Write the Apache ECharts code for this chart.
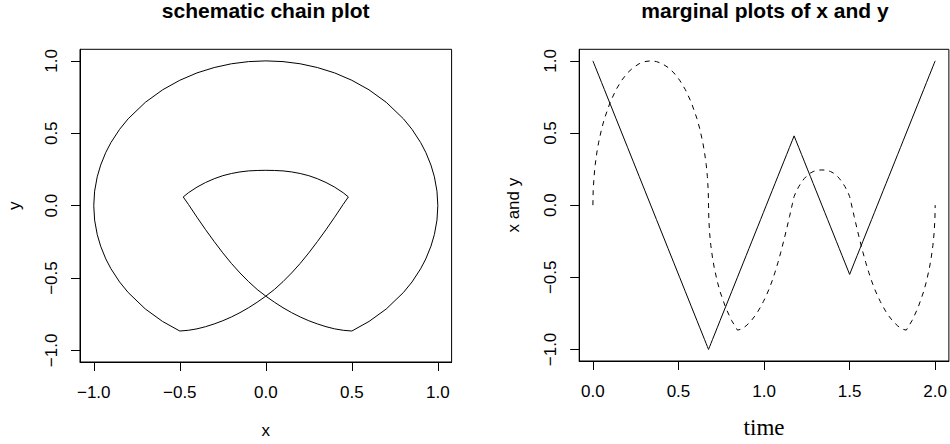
<!DOCTYPE html>
<html>
<head>
<meta charset="utf-8">
<script src="https://cdn.jsdelivr.net/npm/echarts@6/dist/echarts.min.js"></script>
<style>
  html, body { margin: 0; padding: 0; background: #fff; }
  #chart { width: 950px; height: 444px; }
</style>
</head>
<body>
<div id="chart"></div>
<script>
// path of the chain: time, x(t), y(t)
const time = [
  0, 0.0017, 0.0068, 0.0135, 0.0236, 0.0338, 0.0507, 0.0676, 0.1014, 0.1351,
  0.1689, 0.2027, 0.2365, 0.2703, 0.3041, 0.3378, 0.3716, 0.4054, 0.4392, 0.4730,
  0.5068, 0.5405, 0.5743, 0.6081, 0.6250, 0.6419, 0.6520, 0.6622, 0.6689, 0.6740, 0.6757,
  0.6774, 0.6824, 0.6892, 0.6993, 0.7095, 0.7264, 0.7432, 0.7770, 0.8108, 0.8446,
  0.8615, 0.8784, 0.8953, 0.9122, 0.9291, 0.9460, 0.9629, 0.9798, 0.9966, 1.0135,
  1.0304, 1.0473, 1.0642, 1.0811, 1.0980, 1.1149, 1.1318, 1.1487, 1.1656, 1.1757,
  1.1858, 1.2027, 1.2196, 1.2365, 1.2534, 1.2703, 1.2872, 1.3041, 1.3210, 1.3379,
  1.3548, 1.3717, 1.3886, 1.4055, 1.4224, 1.4393, 1.4562, 1.4731, 1.4900, 1.5000,
  1.5101, 1.5270, 1.5439, 1.5608, 1.5777, 1.5946, 1.6115, 1.6284, 1.6453, 1.6622,
  1.6791, 1.6959, 1.7128, 1.7297, 1.7466, 1.7635, 1.7804, 1.7973, 1.8142, 1.8311,
  1.8649, 1.8986, 1.9324, 1.9493, 1.9662, 1.9764, 1.9865, 1.9932, 1.9983, 2.0
];
const xs = [
  1, 0.995, 0.98, 0.96, 0.93, 0.9, 0.85, 0.8, 0.7, 0.6,
  0.5, 0.4, 0.3, 0.2, 0.1, 0, -0.1, -0.2, -0.3, -0.4,
  -0.5, -0.6, -0.7, -0.8, -0.85, -0.9, -0.93, -0.96, -0.98, -0.995, -1,
  -0.995, -0.98, -0.96, -0.93, -0.9, -0.85, -0.8, -0.7, -0.6, -0.5,
  -0.45, -0.4, -0.35, -0.3, -0.25, -0.2, -0.15, -0.1, -0.05, 0,
  0.05, 0.1, 0.15, 0.2, 0.25, 0.3, 0.35, 0.4, 0.45, 0.48,
  0.45, 0.4, 0.35, 0.3, 0.25, 0.2, 0.15, 0.1, 0.05, 0,
  -0.05, -0.1, -0.15, -0.2, -0.25, -0.3, -0.35, -0.4, -0.45, -0.48,
  -0.45, -0.4, -0.35, -0.3, -0.25, -0.2, -0.15, -0.1, -0.05, 0,
  0.05, 0.1, 0.15, 0.2, 0.25, 0.3, 0.35, 0.4, 0.45, 0.5,
  0.6, 0.7, 0.8, 0.85, 0.9, 0.93, 0.96, 0.98, 0.995, 1
];
const ys = [
  0, 0.1, 0.199, 0.28, 0.368, 0.436, 0.527, 0.6, 0.714, 0.8,
  0.866, 0.917, 0.954, 0.98, 0.995, 1, 0.995, 0.98, 0.954, 0.917,
  0.866, 0.8, 0.714, 0.6, 0.527, 0.436, 0.368, 0.28, 0.199, 0.1, 0,
  -0.1, -0.199, -0.28, -0.368, -0.436, -0.527, -0.6, -0.714, -0.8, -0.866,
  -0.861, -0.851, -0.836, -0.817, -0.795, -0.769, -0.739, -0.705, -0.667, -0.625,
  -0.579, -0.525, -0.465, -0.399, -0.326, -0.248, -0.166, -0.08, 0.009, 0.06,
  0.089, 0.128, 0.16, 0.186, 0.207, 0.222, 0.233, 0.24, 0.243, 0.244,
  0.243, 0.24, 0.233, 0.222, 0.207, 0.186, 0.16, 0.128, 0.089, 0.06,
  0.009, -0.08, -0.166, -0.248, -0.326, -0.399, -0.465, -0.525, -0.579, -0.625,
  -0.667, -0.705, -0.739, -0.769, -0.795, -0.817, -0.836, -0.851, -0.861, -0.866,
  -0.8, -0.714, -0.6, -0.527, -0.436, -0.368, -0.28, -0.199, -0.1, 0
];

const xTicks = [-1, -0.5, 0, 0.5, 1];
const yTicks = [-1, -0.5, 0, 0.5, 1];
const timeTicks = [0, 0.5, 1, 1.5, 2];
const titles = ['schematic chain plot', 'marginal plots of x and y'];

const chain = xs.map((x, i) => [x, ys[i]]);
const xByTime = time.map((t, i) => [t, xs[i]]);
const yByTime = time.map((t, i) => [t, ys[i]]);

const sans = '"Liberation Sans", Arial, Helvetica, sans-serif';
const fmt = (v) => v.toFixed(1).replace('-', '\u2212');

// R style axis: ticks outside the box, labels one line out
const rAxis = (gridIndex, min, max, ticks, name, opts) => ({
  type: 'value',
  gridIndex,
  min,
  max,
  splitLine: { show: false },
  axisLine: { show: true, onZero: false, lineStyle: { color: '#000', width: 1 } },
  axisTick: {
    show: true,
    inside: false,
    length: 9,
    customValues: ticks,
    lineStyle: { color: '#000', width: 1 },
  },
  axisLabel: {
    customValues: ticks,
    formatter: fmt,
    color: '#000',
    fontSize: 17,
    fontFamily: sans,
    margin: opts.margin,
    rotate: opts.rotate || 0,
  },
  name,
  nameLocation: 'middle',
  nameGap: opts.nameGap,
  nameTextStyle: Object.assign(
    { color: '#000', fontSize: 17, fontFamily: sans },
    opts.nameStyle || {},
  ),
});

const chart = echarts.init(document.getElementById('chart'), null, { renderer: 'svg' });

chart.setOption({
  animation: false,
  backgroundColor: '#fff',
  title: [
    {
      text: titles[0],
      left: 265.7,
      top: 0,
      padding: 0,
      textAlign: 'center',
      textStyle: { fontSize: 21, fontWeight: 'bold', fontFamily: sans, color: '#000' },
    },
    {
      text: titles[1],
      left: 765,
      top: 0,
      padding: 0,
      textAlign: 'center',
      textStyle: { fontSize: 21, fontWeight: 'bold', fontFamily: sans, color: '#000' },
    },
  ],
  grid: [
    { left: 80, top: 49.3, width: 371.6, height: 313.4, show: true, borderColor: '#000', borderWidth: 1 },
    { left: 579.2, top: 49.3, width: 371.6, height: 313.4, show: true, borderColor: '#000', borderWidth: 1 },
  ],
  xAxis: [
    rAxis(0, -1.08, 1.08, xTicks, 'x', { margin: 22, nameGap: 60 }),
    rAxis(1, -0.08, 2.08, timeTicks, 'time', {
      margin: 22,
      nameGap: 55,
      nameStyle: { fontFamily: '"Liberation Serif", "Times New Roman", serif', fontSize: 23 },
    }),
  ],
  yAxis: [
    rAxis(0, -1.08, 1.08, yTicks, 'y', { margin: 20, rotate: 90, nameGap: 57 }),
    rAxis(1, -1.08, 1.08, yTicks, 'x and y', { margin: 20, rotate: 90, nameGap: 57 }),
  ],
  series: [
    {
      name: 'chain',
      type: 'line',
      xAxisIndex: 0,
      yAxisIndex: 0,
      data: chain,
      showSymbol: false,
      lineStyle: { color: '#000', width: 1 },
    },
    {
      name: 'x',
      type: 'line',
      xAxisIndex: 1,
      yAxisIndex: 1,
      data: xByTime,
      showSymbol: false,
      lineStyle: { color: '#000', width: 1 },
    },
    {
      name: 'y',
      type: 'line',
      xAxisIndex: 1,
      yAxisIndex: 1,
      data: yByTime,
      showSymbol: false,
      lineStyle: { color: '#000', width: 1, type: [5, 5] },
    },
  ],
});
</script>
</body>
</html>
